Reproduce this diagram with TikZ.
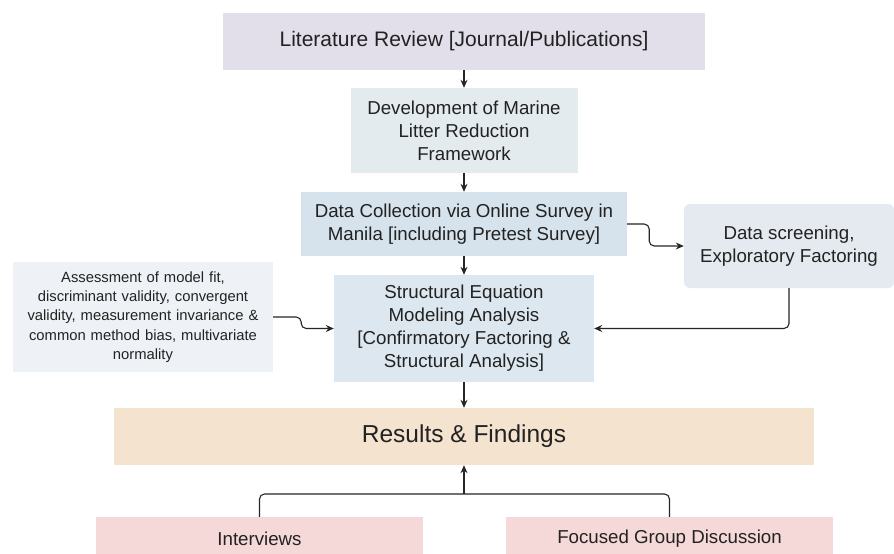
\documentclass[tikz,border=0pt]{standalone}
\usepackage{fontspec}
\setmainfont{Liberation Sans}
\usetikzlibrary{arrows.meta,calc}
\definecolor{txt}{HTML}{222222}
\definecolor{litc}{HTML}{E2DFEA}
\definecolor{devc}{HTML}{E3EBEE}
\definecolor{datac}{HTML}{D6E3EC}
\definecolor{scrc}{HTML}{E4EAEF}
\definecolor{asc}{HTML}{EEF2F6}
\definecolor{semc}{HTML}{DCE7EF}
\definecolor{resc}{HTML}{F4E4CF}
\definecolor{pinkc}{HTML}{F5D8D8}
\tikzset{
  box/.style={inner sep=0pt, align=center, text=txt, font=\fontsize{18.7}{23}\selectfont},
  arr/.style={draw=black!85, line width=1.1pt, -{Stealth[length=8pt,width=7pt]}},
  wire/.style={draw=black!85, line width=1.1pt},
}
\begin{document}
\begin{tikzpicture}[x=1pt,y=-1pt]
\useasboundingbox[fill=white] (0,0) rectangle (894,554);
\node[box, fill=litc, minimum width=482pt, minimum height=57pt, font=\fontsize{21}{24}\selectfont] (lit) at (464,41.5) {Literature Review [Journal/Publications]};
\node[box, fill=devc, minimum width=227pt, minimum height=85pt] (dev) at (464,130.5) {Development of Marine\\Litter Reduction\\Framework};
\node[box, fill=datac, minimum width=326pt, minimum height=64pt] (data) at (464,224) {Data Collection via Online Survey in\\Manila [including Pretest Survey]};
\node[box, fill=scrc, minimum width=210pt, minimum height=84pt, rounded corners=6pt] (scr) at (789,246) {Data screening,\\Exploratory Factoring};
\node[box, fill=asc, minimum width=260pt, minimum height=110pt, text width=258pt, font=\fontsize{14.8}{19.3}\selectfont] (as) at (143,317) {Assessment of model fit,\\discriminant validity, convergent\\validity, measurement invariance \&\\common method bias, multivariate\\normality};
\node[box, fill=semc, minimum width=260pt, minimum height=107pt] (sem) at (464,328.5) {Structural Equation\\Modeling Analysis\\{}[Confirmatory Factoring \&\\Structural Analysis]};
\node[box, fill=resc, minimum width=700pt, minimum height=57pt, font=\fontsize{24.5}{28}\selectfont] (res) at (464,436.5) {Results \& Findings};
\node[box, fill=pinkc, minimum width=327pt, minimum height=43pt] (int) at (259.5,538.5) {Interviews};
\node[box, fill=pinkc, minimum width=327pt, minimum height=43pt] (fgd) at (669.5,538.5) {Focused Group Discussion};
% main vertical flow
\draw[arr] (lit) -- (dev);
\draw[arr] (dev) -- (data);
\draw[arr] (data) -- (sem);
\draw[arr] (sem) -- (res);
% side branches
\draw[arr, rounded corners=5pt] (data.east) -- ++(22,0) |- (scr.west);
\draw[arr, rounded corners=5pt] (scr.south) |- (sem.east);
\draw[arr, rounded corners=5pt] (as.east) -- ++(28,0) |- (sem.west);
% qualitative inputs merging into results
\coordinate (join) at (464,494);
\draw[wire, rounded corners=5pt] (int.north) |- (join) -| (fgd.north);
\draw[arr] (join) -- (res.south);
\end{tikzpicture}
\end{document}
